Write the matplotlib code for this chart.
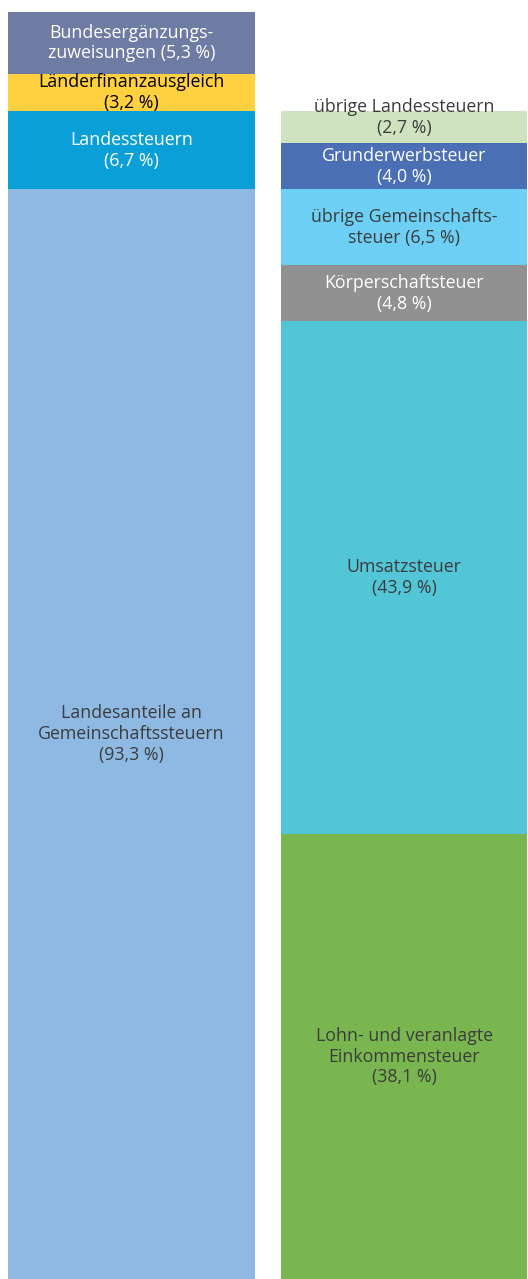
import matplotlib.pyplot as plt

# Einnahmen der Länder, Anteile in %
left_labels = ["Landesanteile an\nGemeinschaftssteuern\n(93,3 %)",
               "Landessteuern\n(6,7 %)",
               "Länderfinanzausgleich\n(3,2 %)",
               "Bundesergänzungs-\nzuweisungen (5,3 %)"]
left_values = [93.3, 6.7, 3.2, 5.3]
left_colors = ["#8db9e2", "#0a9fd6", "#ffd040", "#6e7ba2"]
left_text = ["#3c3c3c", "white", "black", "white"]

right_labels = ["Lohn- und veranlagte\nEinkommensteuer\n(38,1 %)",
                "Umsatzsteuer\n(43,9 %)",
                "Körperschaftsteuer\n(4,8 %)",
                "übrige Gemeinschafts-\nsteuer (6,5 %)",
                "Grunderwerbsteuer\n(4,0 %)",
                "übrige Landessteuern\n(2,7 %)"]
right_values = [38.1, 43.9, 4.8, 6.5, 4.0, 2.7]
right_colors = ["#7ab650", "#52c5d6", "#919191", "#6ccff3", "#4a6fb5", "#cfe3c0"]
right_text = ["#3c3c3c", "#3c3c3c", "white", "#3c3c3c", "white", "#3c3c3c"]

plt.rcParams['font.family'] = ['Open Sans', 'DejaVu Sans']

fig = plt.figure(figsize=(5.28, 12.79), dpi=100)
ax = fig.add_axes([0, 0, 1, 1267 / 1279])

w = 0.905


def stack(x, values, colors, labels, tcolors):
    bottom = 0
    for v, c, lab, tc in zip(values, colors, labels, tcolors):
        ax.bar(x, v, bottom=bottom, width=w, color=c, linewidth=0)
        dy = 0
        if lab.startswith("übrige Landes"):
            dy = 7  # label sits higher than the thin segment
        ax.annotate(lab, (x, bottom + v / 2), xytext=(0, dy),
                    textcoords="offset points", ha="center", va="center",
                    color=tc, fontsize=12.8, linespacing=1.2)
        bottom += v


stack(0, left_values, left_colors, left_labels, left_text)
stack(1, right_values, right_colors, right_labels, right_text)

ax.set_xlim(-0.483, 1.455)
ax.set_ylim(0, 108.5)
ax.axis("off")

fig.savefig("out.png", dpi=100)
